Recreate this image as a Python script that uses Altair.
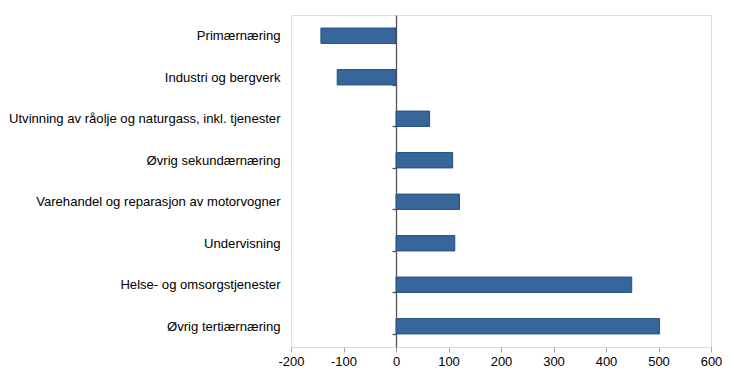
import altair as alt
import pandas as pd

categories = [
    "Primærnæring",
    "Industri og bergverk",
    "Utvinning av råolje og naturgass, inkl. tjenester",
    "Øvrig sekundærnæring",
    "Varehandel og reparasjon av motorvogner",
    "Undervisning",
    "Helse- og omsorgstjenester",
    "Øvrig tertiærnæring",
]
values = [-143, -112, 64, 108, 121, 112, 449, 502]
x_ticks = [-200, -100, 0, 100, 200, 300, 400, 500, 600]

df = pd.DataFrame({"kategori": categories, "verdi": values})

W, H = 420, 332
FONT = "Liberation Sans"

chart = (
    alt.Chart(df)
    .mark_bar(color="#37669a", stroke="#25507f", strokeWidth=1)
    .encode(
        x=alt.X(
            "verdi:Q",
            scale=alt.Scale(domain=[-200, 600], nice=False, zero=False),
            axis=alt.Axis(
                values=x_ticks,
                title=None,
                grid=False,
                domain=False,
                ticks=True,
                tickColor="#a6a6a6",
                tickSize=5,
                labelColor="#000000",
                labelFont=FONT,
                labelFontSize=13,
                labelPadding=3,
                labelFlush=False,
                labelOverlap=False,
                labelExpr="datum.value < 0 ? '-' + abs(datum.value) : '' + datum.value",
            ),
        ),
        y=alt.Y(
            "kategori:N",
            sort=categories,
            scale=alt.Scale(paddingInner=0.63, paddingOuter=0.315),
            axis=alt.Axis(
                title=None,
                orient="left",
                offset=-W * 200 / 800,
                domain=True,
                domainColor="#555555",
                domainWidth=1.3,
                ticks=True,
                tickBand="extent",
                tickColor="#555555",
                tickWidth=1.3,
                tickSize=4,
                labelPadding=112,
                labelColor="#000000",
                labelFont=FONT,
                labelFontSize=13.1,
                labelLimit=400,
            ),
        ),
    )
    .properties(
        width=W,
        height=H,
        autosize=alt.AutoSizeParams(type="none"),
        padding={"left": 283, "top": 7, "right": 11, "bottom": 30},
    )
    .configure_view(stroke="#a6a6a6", strokeWidth=1)
    .configure(background="white")
)

chart.save("out.html", embed_options={"renderer": "svg", "actions": False})
